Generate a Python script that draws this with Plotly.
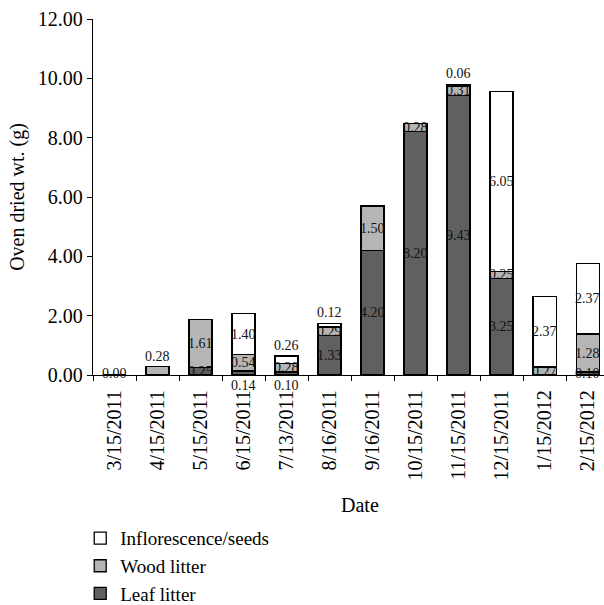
import plotly.graph_objects as go

dates = ["3/15/2011", "4/15/2011", "5/15/2011", "6/15/2011", "7/13/2011", "8/16/2011",
         "9/16/2011", "10/15/2011", "11/15/2011", "12/15/2011", "1/15/2012", "2/15/2012"]
leaf_litter = [0.00, 0.00, 0.25, 0.14, 0.10, 1.33, 4.20, 8.20, 9.43, 3.25, 0.00, 0.10]
wood_litter = [0.00, 0.28, 1.61, 0.54, 0.28, 0.29, 1.50, 0.28, 0.31, 0.25, 0.27, 1.28]
inflorescence = [0.00, 0.00, 0.00, 1.40, 0.26, 0.12, 0.00, 0.00, 0.06, 6.05, 2.37, 2.37]

# label placement style per segment
leaf_pos = ["zero", "none", "mid", "below", "below", "mid", "mid", "mid", "mid", "mid", "none", "mid"]
wood_pos = ["none", "above", "mid", "mid", "mid", "mid", "mid", "mid", "mid", "mid", "mid", "mid"]
infl_pos = ["none", "none", "none", "mid", "above", "above", "none", "none", "above", "mid", "mid", "mid"]

FONT = "Liberation Serif, Times New Roman, serif"

series = [
    ("Leaf litter", leaf_litter, "#606060", leaf_pos),
    ("Wood litter", wood_litter, "#b5b5b5", wood_pos),
    ("Inflorescence/seeds", inflorescence, "#ffffff", infl_pos),
]

fig = go.Figure()
annotations = []
base = [0.0] * len(dates)
lab_font = dict(size=14, color="#111111", family=FONT)
for name, vals, color, pos in series:
    fig.add_trace(go.Bar(
        x=dates, y=vals, name=name,
        marker=dict(color=color, line=dict(color="black", width=1.3)),
        hoverinfo="x+y+name",
    ))
    for i, (d, v, p) in enumerate(zip(dates, vals, pos)):
        if p == "none":
            continue
        txt = f"{v:.2f}"
        if p == "mid":
            annotations.append(dict(x=d, y=base[i] + v / 2, text=txt, showarrow=False,
                                    yanchor="middle", font=lab_font))
        elif p == "above":
            annotations.append(dict(x=d, y=base[i] + v, text=txt, showarrow=False,
                                    yanchor="bottom", yshift=1, font=lab_font))
        elif p == "below":
            annotations.append(dict(x=d, y=0, text=txt, showarrow=False,
                                    yanchor="top", yshift=-1, font=lab_font))
        elif p == "zero":
            annotations.append(dict(x=d, y=0, text=txt, showarrow=False,
                                    yanchor="middle", yshift=2, font=lab_font))
    base = [b + v for b, v in zip(base, vals)]

# x-axis title placed as a paper annotation
annotations.append(dict(text="Date", x=0.5225, y=-0.365, xref="paper", yref="paper",
                        xanchor="center", yanchor="middle", showarrow=False,
                        font=dict(size=20, family=FONT, color="black")))

fig.update_layout(
    width=604, height=605,
    margin=dict(l=93, r=0, t=19, b=230, autoexpand=False),
    barmode="stack",
    bargap=0.465,
    paper_bgcolor="white",
    plot_bgcolor="white",
    font=dict(family=FONT, size=20, color="black"),
    showlegend=True,
    legend=dict(
        x=-0.025, y=-0.405, xanchor="left", yanchor="top",
        traceorder="reversed",
        font=dict(size=19, family=FONT, color="black"),
        bgcolor="rgba(0,0,0,0)",
    ),
    annotations=annotations,
    xaxis=dict(
        type="category",
        range=[-0.5, 11.38],
        showline=True, linecolor="black", linewidth=1.3,
        ticks="outside", tickson="boundaries", ticklen=5, tickcolor="black", tickwidth=1.3,
        tickangle=-90,
        ticklabelstandoff=6,
        tickfont=dict(size=20, family=FONT, color="black"),
        showgrid=False, zeroline=False,
        automargin=False,
    ),
    yaxis=dict(
        range=[0, 12], dtick=2, tickformat=".2f",
        showline=True, linecolor="black", linewidth=1.3,
        ticks="outside", ticklen=5, tickcolor="black", tickwidth=1.3,
        tickfont=dict(size=20, family=FONT, color="black"),
        showgrid=False, zeroline=False,
        automargin=False,
        title=dict(text="Oven dried wt. (g)", font=dict(size=20, family=FONT, color="black"),
                   standoff=7),
    ),
)

fig.write_html(
    "out.html",
    config={"displayModeBar": False},
    post_script="document.body.style.margin='0px';document.body.style.overflow='hidden';",
)
